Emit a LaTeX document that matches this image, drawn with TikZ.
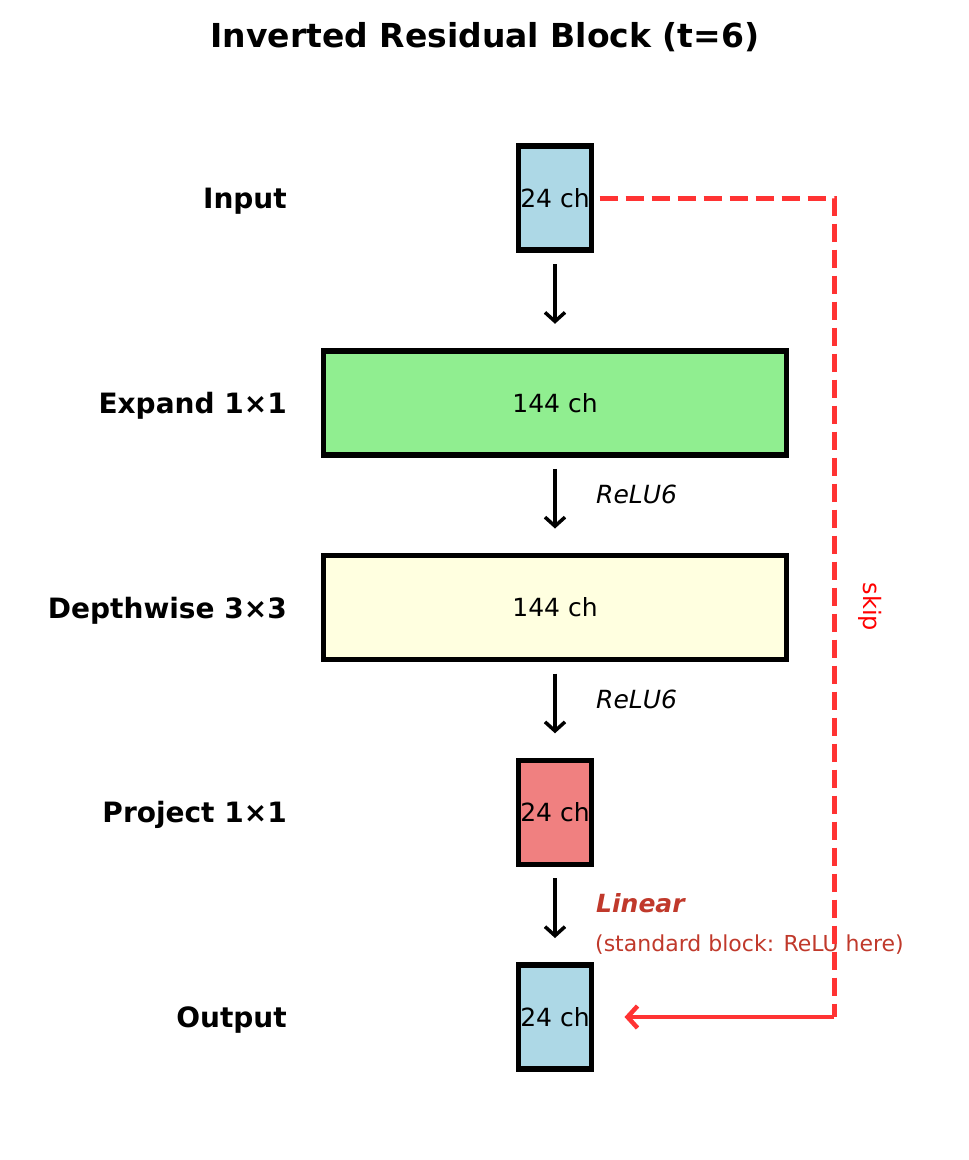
\documentclass[tikz,border=0pt]{standalone}
\usepackage{fontspec}
\setmainfont{DejaVu Sans}
\usetikzlibrary{positioning,arrows.meta}
\definecolor{inblue}{HTML}{ADD8E6}
\definecolor{expgreen}{HTML}{90EE90}
\definecolor{dwyellow}{HTML}{FFFFE0}
\definecolor{projred}{HTML}{F08080}
\definecolor{skipred}{HTML}{FF3333}
\definecolor{linred}{HTML}{C0392B}

\begin{document}
\begin{tikzpicture}[
  x=1pt,y=-1pt,
  node distance=100.75pt,
  box/.style={draw,line width=5.5pt,minimum height=104pt,inner sep=0pt,outer sep=0pt,font=\fontsize{25}{30}\selectfont},
  narrow/.style={box,minimum width=73pt},
  wide/.style={box,minimum width=463pt},
  lbl/.style={anchor=east,inner sep=0pt,yshift=-3pt,font=\fontsize{28}{34}\selectfont\bfseries},
  act/.style={anchor=west,inner sep=0pt,font=\fontsize{25}{30}\selectfont\itshape},
  arrow/.style={-{Straight Barb[length=9pt,width=20pt]},line width=3.5pt,shorten <=14pt,shorten >=27pt},
  skipline/.style={skipred,line width=5pt,dash pattern=on 18pt off 8pt},
  skiparrow/.style={-{Straight Barb[length=10pt,width=22pt]},skipred,line width=4.5pt}
]
\useasboundingbox (0,0) rectangle (969,1160);

\node[font=\fontsize{33}{40}\selectfont\bfseries] (title) at (485,37) {Inverted Residual Block (t=6)};

% blocks
\node[narrow,fill=inblue] (in) at (555,198) {24 ch};
\node[wide,fill=expgreen,below=of in] (exp) {144 ch};
\node[wide,fill=dwyellow,below=of exp] (dw) {144 ch};
\node[narrow,fill=projred,below=of dw] (proj) {24 ch};
\node[narrow,fill=inblue,below=of proj] (out) {24 ch};

% row labels
\coordinate (lblx) at (287,0);
\node[lbl] (lin) at (in -| lblx) {Input};
\node[lbl] (lexp) at (exp -| lblx) {Expand 1×1};
\node[lbl] (ldw) at (dw -| lblx) {Depthwise 3×3};
\node[lbl] (lproj) at (proj -| lblx) {Project 1×1};
\node[lbl] (lout) at (out -| lblx) {Output};

\draw[arrow] (in) -- (exp);
\draw[arrow] (exp) -- (dw);
\draw[arrow] (dw) -- (proj);
\draw[arrow] (proj) -- (out);

\node[act] (relu1) at (596,494) {ReLU6};
\node[act] (relu2) at (596,699) {ReLU6};
\node[act,text=linred,font=\fontsize{25}{30}\selectfont\bfseries\itshape] (lin2) at (596,903) {Linear};
\node[act,text=linred,font=\fontsize{22}{26}\selectfont] (std) at (595,945) {(standard block: ReLU here)};

% skip connection
\coordinate (skipturn) at (out -| 834,0);
\draw[skipline,shorten <=8pt] (in) -| (skipturn);
\draw[skiparrow,shorten >=33pt] (skipturn) -- (out);
\node[text=red,rotate=-90,inner sep=0pt,font=\fontsize{24}{29}\selectfont] (skiplbl) at (870,607) {skip};
\end{tikzpicture}
\end{document}
